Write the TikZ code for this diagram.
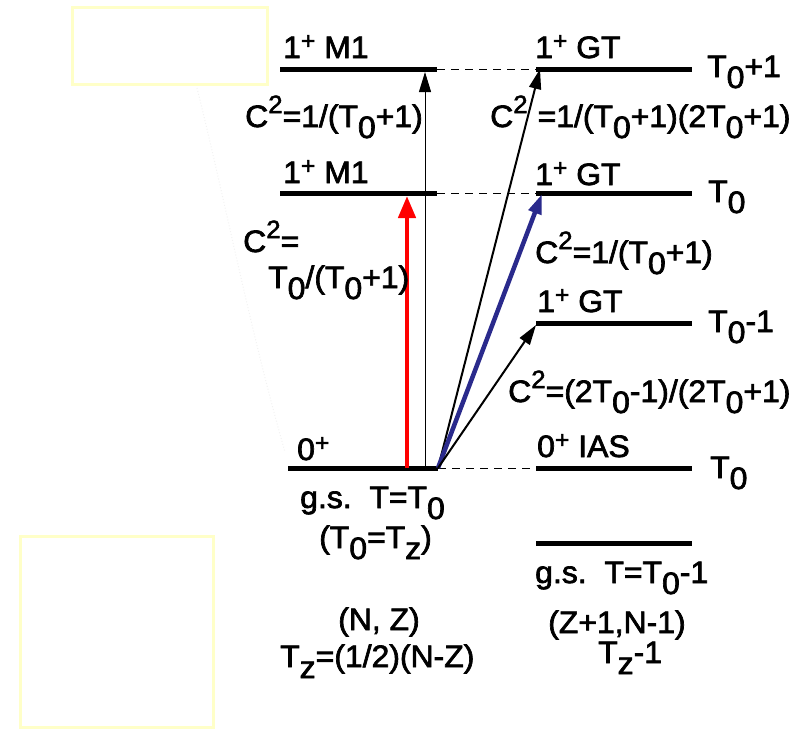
\documentclass[tikz,border=0pt]{standalone}
\usepackage{fontspec}
\setmainfont{Liberation Sans}[FakeBold=2.2,FakeStretch=1.03]
\usetikzlibrary{arrows.meta}
\newcommand\sbz[1]{\raisebox{-11pt}{#1}}
\newcommand\suptwo{\raisebox{14pt}{\fontsize{25}{25}\selectfont 2}}
\newcommand\supplus{\raisebox{9pt}{\fontsize{24}{24}\selectfont +}}
\definecolor{boxyellow}{RGB}{255,255,200}
\definecolor{arrowblue}{RGB}{42,42,140}
\definecolor{arrowred}{RGB}{255,0,0}
\begin{document}
\begin{tikzpicture}[x=1pt,y=-1pt,
  lbl/.style={anchor=base west,inner sep=0pt,font=\fontsize{31}{31}\selectfont},
  lev/.style={line width=5pt},
  dline/.style={dash pattern=on 8pt off 6pt,line width=0.9pt},
  yb/.style={draw=boxyellow,line width=3pt},
  tip/.style={-{Triangle[length=20pt,width=12pt]}}]
\useasboundingbox (0,0) rectangle (806,729);
% yellow frames
\draw[yb] (72,7) rectangle (267,84);
\draw[yb] (20,536) rectangle (213,727);
% faint trace on the left
\draw[gray!10,dotted,line width=1pt] (197,88) .. controls (225,200) and (250,330) .. (285,452);
% levels, left
\coordinate (m1a-w) at (280,69);  \coordinate (m1a-e) at (437,69);
\coordinate (m1b-w) at (280,193); \coordinate (m1b-e) at (437,193);
\coordinate (gs-w) at (288,468);  \coordinate (gs-e) at (438,468);
% levels, right
\coordinate (gta-w) at (536,69);  \coordinate (gta-e) at (692,69);
\coordinate (gtb-w) at (536,193); \coordinate (gtb-e) at (692,193);
\coordinate (gtc-w) at (536,323); \coordinate (gtc-e) at (692,323);
\coordinate (ias-w) at (536,468); \coordinate (ias-e) at (692,468);
\coordinate (gsr-w) at (536,543); \coordinate (gsr-e) at (692,543);
\foreach \l in {m1a,m1b,gs,gta,gtb,gtc,ias,gsr}{\draw[lev] (\l-w) -- (\l-e);}
% dashed links
\draw[dline] (m1a-e) -- (gta-w);
\draw[dline] (m1b-e) -- (gtb-w);
\draw[dline] (gs-e) -- (ias-w);
% arrows
\coordinate (thinfoot) at (425,468); \coordinate (thintip) at (425,72);
\coordinate (redfoot) at (407,468);  \coordinate (redtip) at (407,196);
\coordinate (src) at (438,468);
\coordinate (blutip) at (542,194);
\coordinate (blktipa) at (540,69);
\coordinate (blktipc) at (536,325);
\draw[tip,line width=1pt] (thinfoot) -- (thintip);
\draw[-{Triangle[length=22pt,width=17pt]},line width=4.5pt,arrowred] (redfoot) -- (redtip);
\draw[tip,line width=2pt] (src) -- (blktipa);
\draw[-{Triangle[length=20pt,width=13pt]},line width=4.5pt,arrowblue] (src) -- (blutip);
\draw[tip,line width=2pt] (src) -- (blktipc);
% labels, left
\node[lbl] (l1) at (283,58) {1\supplus\ M1};
\node[lbl] (l2) at (283,183) {1\supplus\ M1};
\node[lbl] (c1) at (245,127) {C\suptwo=1/(T\sbz{0}+1)};
\node[lbl] (c2a) at (243,252) {C\suptwo=};
\node[lbl] (c2b) at (268,288) {T\sbz{0}/(T\sbz{0}+1)};
\node[lbl] (l0) at (297,460) {0\supplus};
\node[lbl] (gsl) at (300,508) {g.s.\ \ T=T\sbz{0}};
\node[lbl] (tz1) at (319,548) {(T\sbz{0}=T\sbz{z})};
\node[lbl] (nz) at (338,630) {(N, Z)};
\node[lbl] (tz2) at (280,667) {T\sbz{z}=(1/2)(N-Z)};
% labels, right
\node[lbl] (r1) at (535,58) {1\supplus\ GT};
\node[lbl] (t1) at (707,77) {T\sbz{0}+1};
\node[lbl] (c3) at (490,127) {C\suptwo\hspace{10pt}=1/(T\sbz{0}+1)(2T\sbz{0}+1)};
\node[lbl] (r2) at (535,185) {1\supplus\ GT};
\node[lbl] (t2) at (708,202) {T\sbz{0}};
\node[lbl] (c4) at (535,263) {C\suptwo=1/(T\sbz{0}+1)};
\node[lbl] (r3) at (537,312) {1\supplus\ GT};
\node[lbl] (t3) at (708,332) {T\sbz{0}-1};
\node[lbl] (c5) at (508,402) {C\suptwo=(2T\sbz{0}-1)/(2T\sbz{0}+1)};
\node[lbl] (r4) at (537,457) {0\supplus\ IAS};
\node[lbl] (t4) at (710,478) {T\sbz{0}};
\node[lbl] (gsr) at (535,583) {g.s.\ \ T=T\sbz{0}-1};
\node[lbl] (zn) at (548,633) {(Z+1,N-1)};
\node[lbl] (tz3) at (598,663) {T\sbz{z}-1};
\end{tikzpicture}
\end{document}
